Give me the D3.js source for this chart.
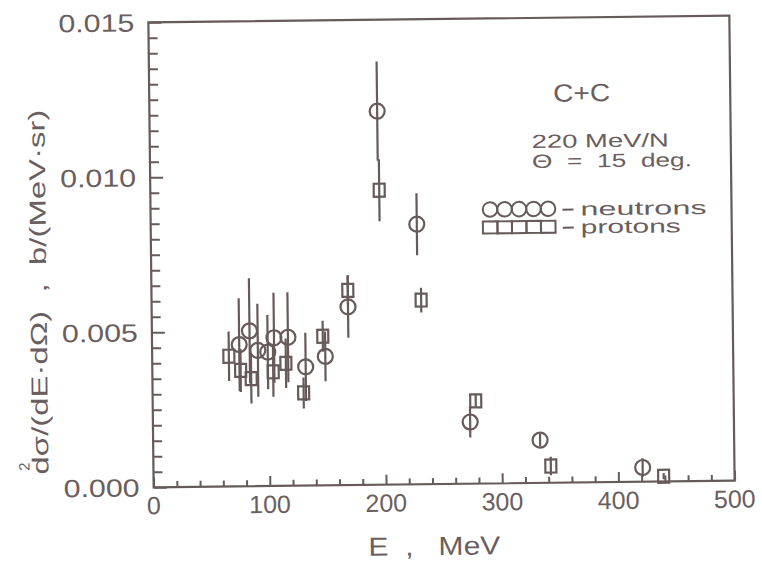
<!DOCTYPE html>
<html><head><meta charset="utf-8">
<script src="https://cdn.jsdelivr.net/npm/d3@7"></script>
<style>body{margin:0;background:#fff} text{font-family:"Liberation Sans",Arial,sans-serif;fill:#6a5e5e}</style>
</head><body>
<svg id="c" width="762" height="561"></svg>
<script>
// ---- data ----
const neutronE   = [75, 84, 91, 99.5, 105, 117, 132, 149, 169, 196, 229, 273, 333, 421];
const neutronV   = [0.00457, 0.00501, 0.00438, 0.00432, 0.00478, 0.00479, 0.00383, 0.00416, 0.00575, 0.01205, 0.00839, 0.00199, 0.00138, 0.00046];
const neutronErr = [0.0015, 0.0017, 0.0015, 0.0012, 0.00145, 0.00145, 0.0011, 0.0008, 0.0010, 0.0016, 0.0010, 0.0005, 0.0002, 0.0003];
const protonE    = [66, 76, 85, 104, 115, 130, 147, 169, 197, 232, 278, 342, 439];
const protonV    = [0.0042, 0.00374, 0.00347, 0.00368, 0.00395, 0.00299, 0.00481, 0.00628, 0.0095, 0.00594, 0.00267, 0.00054, 0.00017];
const protonErr  = [0.0008, 0.0007, 0.0008, 0.0008, 0.0008, 0.0005, 0.0005, 0.0005, 0.0010, 0.0004, 0.0002, 0.0003, 0.0001];
const xTickLabels = [0, 100, 200, 300, 400, 500];
const yTickLabels = [0.000, 0.005, 0.010, 0.015];
const legendLabels = ["neutrons", "protons"];

const col = "#665a5a";
const svg = d3.select("#c");
const g = svg.append("g").attr("transform", "rotate(-0.65,442,252)");

const x = d3.scaleLinear().domain([0, 500]).range([151, 732]);
const y = d3.scaleLinear().domain([0, 0.015]).range([484, 19]);

// frame
g.append("rect").attr("x", x(0)).attr("y", y(0.015))
  .attr("width", x(500) - x(0)).attr("height", y(0) - y(0.015))
  .attr("fill", "none").attr("stroke", col).attr("stroke-width", 2.2);

// x axis ticks (inward)
const xAxis = d3.axisBottom(x).tickValues(d3.range(0, 501, 20)).tickSize(0).tickFormat("");
const xa = g.append("g").attr("transform", `translate(0,${y(0)})`).call(xAxis);
xa.select(".domain").remove();
xa.selectAll(".tick").append("line").attr("y1", 0)
  .attr("y2", d => d % 100 === 0 ? -10 : -6).attr("stroke", col).attr("stroke-width", 2);
g.selectAll(".xlab").data(xTickLabels).join("text").attr("class", "xlab")
  .attr("x", d => x(d)).attr("y", y(0) + 27).attr("text-anchor", "middle")
  .attr("font-size", 25).text(d => d);

// y axis ticks (inward)
const yAxis = d3.axisLeft(y).tickValues(d3.range(0, 31).map(i => i * 0.0005)).tickSize(0).tickFormat("");
const ya = g.append("g").attr("transform", `translate(${x(0)},0)`).call(yAxis);
ya.select(".domain").remove();
ya.selectAll(".tick").append("line").attr("x1", 0)
  .attr("x2", (d, i) => i % 10 === 0 ? 13 : 9).attr("stroke", col).attr("stroke-width", 2);
g.selectAll(".ylab").data(yTickLabels).join("text").attr("class", "ylab")
  .attr("x", x(0) - 14).attr("y", d => y(d) + 9).attr("text-anchor", "end")
  .attr("font-size", 25).attr("textLength", 76).attr("lengthAdjust", "spacingAndGlyphs")
  .text(d => d3.format(".3f")(d));

// axis titles
g.append("text").attr("x", 365).attr("y", 555)
  .attr("font-size", 26).style("white-space", "pre")
  .attr("textLength", 132).attr("lengthAdjust", "spacingAndGlyphs").text("E  ,   MeV");

g.append("text").attr("transform", "translate(46,470) rotate(-90)")
  .attr("font-size", 23).style("white-space", "pre")
  .attr("textLength", 365).attr("lengthAdjust", "spacingAndGlyphs")
  .text("dσ/(dE·dΩ)  ,  b/(MeV·sr)");
g.append("text").attr("transform", "translate(27,466) rotate(-90)")
  .attr("font-size", 15).text("2");

// annotations
g.append("text").attr("x", 555).attr("y", 103).attr("font-size", 25)
  .attr("textLength", 57).attr("lengthAdjust", "spacingAndGlyphs").text("C+C");
g.append("text").attr("x", 533).attr("y", 149).attr("font-size", 19)
  .attr("textLength", 137).attr("lengthAdjust", "spacingAndGlyphs").text("220 MeV/N");
g.append("text").attr("x", 533).attr("y", 169).attr("font-size", 19).style("white-space", "pre")
  .attr("textLength", 160).attr("lengthAdjust", "spacingAndGlyphs").text("Θ  =  15  deg.");

// legend
const lc = d3.range(5).map(i => 490.5 + i * 14.5);
g.selectAll(".lcirc").data(lc).join("circle").attr("class", "lcirc")
  .attr("cx", d => d).attr("cy", 210).attr("r", 7.3)
  .attr("fill", "none").attr("stroke", col).attr("stroke-width", 2);
g.selectAll(".lsq").data(lc).join("rect").attr("class", "lsq")
  .attr("x", d => d - 7.3).attr("y", 222).attr("width", 14.6).attr("height", 12)
  .attr("fill", "none").attr("stroke", col).attr("stroke-width", 2);
g.selectAll(".ldash").data([211, 229]).join("line").attr("class", "ldash")
  .attr("x1", 563).attr("x2", 574).attr("y1", d => d).attr("y2", d => d)
  .attr("stroke", col).attr("stroke-width", 2);
g.append("text").attr("x", 581).attr("y", 217).attr("font-size", 19)
  .attr("textLength", 126).attr("lengthAdjust", "spacingAndGlyphs").text(legendLabels[0]);
g.append("text").attr("x", 581).attr("y", 235).attr("font-size", 19)
  .attr("textLength", 100).attr("lengthAdjust", "spacingAndGlyphs").text(legendLabels[1]);

// data
const neutrons = neutronE.map((e, i) => ({e, v: neutronV[i], err: neutronErr[i]}));
const protons = protonE.map((e, i) => ({e, v: protonV[i], err: protonErr[i]}));

function errBars(data, cls) {
  g.selectAll("." + cls).data(data).join("line").attr("class", cls)
    .attr("x1", d => x(d.e)).attr("x2", d => x(d.e))
    .attr("y1", d => y(d.v + d.err)).attr("y2", d => y(Math.max(0, d.v - d.err)))
    .attr("stroke", col).attr("stroke-width", 2.2);
}
errBars(neutrons, "nerr");
errBars(protons, "perr");

g.selectAll(".nmark").data(neutrons).join("circle").attr("class", "nmark")
  .attr("cx", d => x(d.e)).attr("cy", d => y(d.v)).attr("r", 7.5)
  .attr("fill", "none").attr("stroke", col).attr("stroke-width", 2.2);
g.selectAll(".pmark").data(protons).join("rect").attr("class", "pmark")
  .attr("x", d => x(d.e) - 5.5).attr("y", d => y(d.v) - 6.5).attr("width", 11).attr("height", 13)
  .attr("fill", "none").attr("stroke", col).attr("stroke-width", 2.2);
</script>
</body></html>
